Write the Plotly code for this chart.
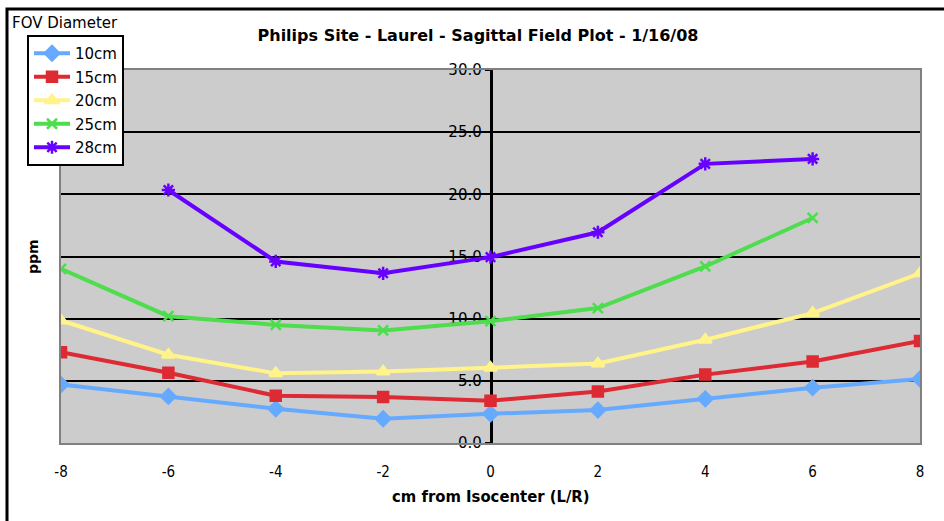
import plotly.graph_objects as go

x_cm = [-8, -6, -4, -2, 0, 2, 4, 6, 8]
x_labels = ["-8", "-6", "-4", "-2", "0", "2", "4", "6", "8"]
fov_10 = [4.7, 3.75, 2.75, 1.95, 2.35, 2.65, 3.55, 4.45, 5.15]
fov_15 = [7.3, 5.65, 3.8, 3.7, 3.4, 4.15, 5.5, 6.55, 8.2]
fov_20 = [9.85, 7.1, 5.6, 5.75, 6.05, 6.4, 8.3, 10.45, 13.65]
fov_25 = [14.0, 10.2, 9.5, 9.05, 9.8, 10.85, 14.2, 18.1, None]
fov_28 = [None, 20.35, 14.6, 13.65, 14.95, 16.95, 22.45, 22.85, None]

series = [
    ("10cm", fov_10, "#66aaff", "diamond", 11),
    ("15cm", fov_15, "#dd2a33", "square", 10),
    ("20cm", fov_20, "#fff38a", "triangle-up", 11),
    ("25cm", fov_25, "#4ddd4d", "x-thin-open", 10),
    ("28cm", fov_28, "#6600ff", "asterisk-open", 11),
]

fig = go.Figure()
for name, vals, color, sym, size in series:
    fig.add_trace(go.Scatter(
        x=x_cm, y=vals, name=name, mode="lines+markers",
        legendgroup=name,
        line=dict(color=color, width=4),
        marker=dict(symbol=sym, size=size, color=color,
                    line=dict(color=color, width=2.5)),
        connectgaps=False,
    ))

# free y axis at x=0 for tick labels
fig.add_trace(go.Scatter(x=[0], y=[None], yaxis="y2", showlegend=False, hoverinfo="skip"))

L, R, T, B = 61, 24, 70, 78
W, H = 944, 521
pw = W - L - R
ph = H - T - B

def px(xp):
    return (xp - L) / pw

def py(yp):
    return (H - B - yp) / ph

fig.update_layout(
    width=W, height=H,
    margin=dict(l=L, r=R, t=T, b=B),
    paper_bgcolor="white",
    plot_bgcolor="#cccccc",
    font=dict(family="DejaVu Sans", color="black"),
    title=dict(text="<b>Philips Site - Laurel - Sagittal Field Plot - 1/16/08</b>",
               font=dict(size=16, family="DejaVu Sans"),
               x=478 / W, xref="container", xanchor="center",
               y=1 - 35 / H, yref="container", yanchor="middle"),
    xaxis=dict(range=[-8, 8], tickvals=x_cm, ticktext=x_labels,
               showgrid=False, zeroline=False,
               showline=True, linecolor="#808080", linewidth=2, mirror=True,
               ticks="", ticklabelstandoff=14,
               tickfont=dict(family="DejaVu Sans Condensed", size=15)),
    yaxis=dict(range=[0, 30], tickvals=[5, 10, 15, 20, 25],
               showticklabels=False, showgrid=True, gridcolor="black", gridwidth=2,
               zeroline=False, showline=True, linecolor="#808080", linewidth=2,
               mirror=True, ticks=""),
    yaxis2=dict(range=[0, 30], overlaying="y", anchor="free", position=0.5,
                side="left", tickvals=[0, 5, 10, 15, 20, 25, 30], tickformat=".1f",
                showgrid=False, zeroline=False, showline=True, linecolor="black",
                linewidth=2.5, ticks="outside", ticklen=5, tickcolor="black",
                tickwidth=2, layer="below traces",
                tickfont=dict(family="DejaVu Sans", size=15)),
    legend=dict(x=px(27), y=py(35), xanchor="left", yanchor="top",
                bgcolor="white", bordercolor="black", borderwidth=2,
                font=dict(size=15, family="DejaVu Sans"),
                tracegroupgap=1, itemwidth=36),
    showlegend=True,
    annotations=[
        dict(text="FOV Diameter", xref="paper", yref="paper", x=px(10), y=py(23),
             xanchor="left", yanchor="middle", showarrow=False,
             font=dict(size=15, family="DejaVu Sans")),
        dict(text="<b>ppm</b>", xref="paper", yref="paper", x=px(33), y=py(257),
             xanchor="center", yanchor="middle", showarrow=False, textangle=-90,
             font=dict(size=14, family="DejaVu Sans")),
        dict(text="<b>cm from Isocenter (L/R)</b>", xref="paper", yref="paper",
             x=px(491), y=py(496), xanchor="center", yanchor="middle", showarrow=False,
             font=dict(size=16.5, family="DejaVu Sans Condensed")),
    ],
    shapes=[
        dict(type="rect", xref="paper", yref="paper",
             x0=px(7), y0=py(540), x1=px(960), y1=py(9),
             line=dict(color="black", width=3), fillcolor="rgba(0,0,0,0)"),
    ],
)

fig.write_html("out.html", config={"displayModeBar": False})
